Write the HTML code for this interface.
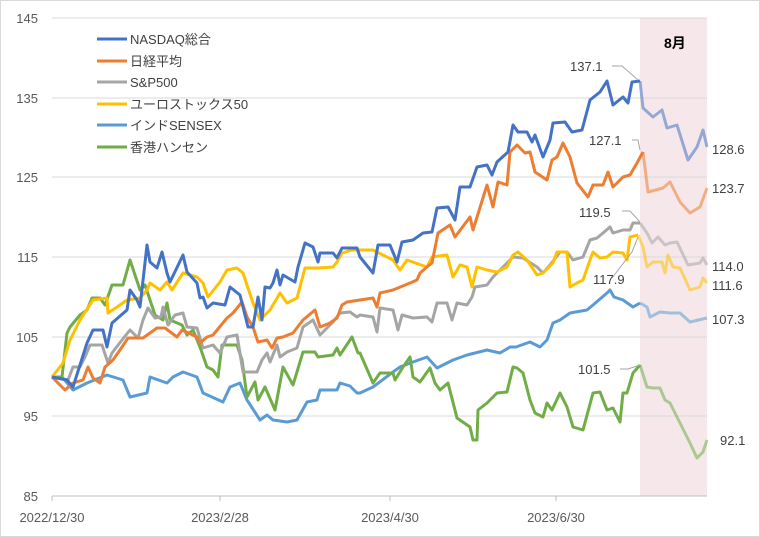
<!DOCTYPE html>
<html><head><meta charset="utf-8"><style>
body{margin:0;background:#fff}
svg{display:block;font-family:"Liberation Sans","Noto Sans CJK JP",sans-serif}
</style></head><body>
<svg width="760" height="537" viewBox="0 0 760 537">
<rect x="0.5" y="0.5" width="759" height="536" fill="#fff" stroke="#d9d9d9"/>
<rect x="640" y="18" width="67" height="478" fill="#f6e8ea"/>
<g stroke="#d9d9d9" stroke-width="1">
<line x1="52" y1="18" x2="707" y2="18"/><line x1="52" y1="98" x2="707" y2="98"/>
<line x1="52" y1="177" x2="707" y2="177"/><line x1="52" y1="257" x2="707" y2="257"/>
<line x1="52" y1="337" x2="707" y2="337"/><line x1="52" y1="416" x2="707" y2="416"/>
<line x1="52" y1="496" x2="707" y2="496" stroke="#bfbfbf"/>
<line x1="52" y1="496" x2="52" y2="501" stroke="#bfbfbf"/><line x1="220" y1="496" x2="220" y2="501" stroke="#bfbfbf"/>
<line x1="390" y1="496" x2="390" y2="501" stroke="#bfbfbf"/><line x1="556" y1="496" x2="556" y2="501" stroke="#bfbfbf"/>
</g>
<g font-size="13" fill="#595959" text-anchor="end">
<text x="38" y="23">145</text><text x="38" y="103">135</text><text x="38" y="182">125</text>
<text x="38" y="262">115</text><text x="38" y="342">105</text><text x="38" y="421">95</text><text x="38" y="501">85</text>
</g>
<g font-size="13" fill="#595959" text-anchor="middle">
<text x="52" y="522">2022/12/30</text><text x="220" y="522">2023/2/28</text><text x="390" y="522">2023/4/30</text><text x="556" y="522">2023/6/30</text>
</g>
<g fill="none" stroke-width="3" stroke-linejoin="round">
<!-- SENSEX -->
<polyline stroke="#5b9bd5" points="52,377 62,377 73,390 87,383 107,375 123,380 130,397 147,393 150,377 167,383 173,377 183,372 197,377 203,393 223,402 230,387 240,383 247,400 260,420 267,415 273,420 287,422 297,420 307,402 317,400 320,390 337,390 340,383 350,386 357,393 360,393 373,387 393,372 400,367 413,362 427,357 437,368 453,360 467,355 487,350 500,353 510,347 516,347 530,342 540,347 547,340 553,323 560,320 570,313 587,310 593,305 607,293 610,290 614,297 623,300 633,307 640,303"/>
<polyline stroke="#5b9bd5" opacity="0.55" points="640,303 647,307 650,317 660,312 670,313 680,313 690,322 707,318"/>
<!-- Hang Seng -->
<polyline stroke="#70ad47" points="52,377 62,377 67,333 70,327 80,315 87,310 92,298 100,298 105,305 112,285 123,285 130,260 140,290 145,285 155,315 163,320 167,303 170,320 182,325 187,335 193,330 200,347 207,367 213,370 218,377 222,345 237,345 242,360 247,397 255,382 258,400 265,387 275,410 283,367 293,385 303,352 315,352 318,357 333,355 337,348 340,355 352,337 358,353 360,353 373,383 380,373 393,373 395,380 403,367 410,357 413,377 420,382 430,368 435,383 440,390 448,383 457,418 470,427 473,440 477,440 478,410 487,403 497,393 507,392 513,367 517,368 523,373 530,400 535,413 543,417 547,403 552,410 560,393 567,407 573,427 583,430 593,393 600,392 607,410 613,408 620,422 623,393 627,393 633,373 640,365"/>
<polyline stroke="#70ad47" opacity="0.55" points="640,365 647,387 653,388 660,388 665,400 670,403 680,423 690,443 697,458 703,452 707,440"/>
<!-- S&P -->
<polyline stroke="#a5a5a5" points="52,377 68,380 73,367 80,367 85,357 90,345 102,345 108,363 112,353 122,340 130,330 138,338 143,320 148,308 155,318 161,317 163,307 168,325 175,315 183,313 187,327 197,328 203,348 213,345 220,353 227,337 237,335 243,372 257,372 262,360 267,353 270,362 277,345 280,357 287,352 297,348 303,327 313,320 320,335 333,322 340,313 350,312 357,317 360,315 373,317 377,332 380,308 393,310 398,330 402,315 413,318 427,317 432,322 437,303 447,303 452,320 457,303 467,305 472,297 475,287 487,285 493,277 507,263 513,257 523,258 537,267 543,273 550,265 560,252 567,252 573,260 583,257 590,240 597,238 603,233 610,227 613,233 623,230 630,230 633,223 640,223"/>
<polyline stroke="#a5a5a5" opacity="0.55" points="640,223 647,233 652,243 658,237 665,245 670,243 677,242 688,265 700,263 703,258 707,265"/>
<!-- Euro -->
<polyline stroke="#ffc000" points="52,377 63,363 70,340 80,320 93,300 107,298 108,313 117,307 127,300 140,298 147,290 150,283 160,290 167,282 172,290 183,273 197,277 203,283 208,297 220,282 227,270 237,268 243,273 253,303 260,320 270,310 280,293 287,303 297,298 305,268 318,268 333,267 337,262 342,253 352,250 360,250 373,250 393,260 400,270 407,260 427,267 432,257 447,255 453,277 460,265 467,267 472,287 477,267 487,270 497,272 507,267 513,255 518,252 527,260 537,275 543,273 553,263 557,252 567,252 570,287 577,283 583,280 590,260 593,252 600,258 607,257 613,252 623,253 627,260 630,237 638,235"/>
<polyline stroke="#ffc000" opacity="0.55" points="638,235 643,247 647,267 653,262 662,262 665,273 668,255 673,267 680,268 690,290 700,287 703,278 707,283"/>
<!-- Nikkei -->
<polyline stroke="#ed7d31" points="52,377 65,390 73,383 83,380 88,367 93,378 100,383 105,367 113,360 122,347 128,338 143,338 157,328 165,328 177,337 182,330 197,337 200,343 207,337 213,335 227,318 233,313 242,302 247,317 253,327 258,342 267,340 272,348 277,338 283,337 293,333 303,320 315,310 320,327 330,323 337,318 342,305 347,302 360,300 373,298 377,307 380,293 393,290 410,283 417,280 420,273 427,267 432,263 438,233 450,225 455,237 470,217 473,230 487,185 493,207 498,182 507,185 510,152 517,145 525,153 530,152 535,172 547,180 552,160 557,157 563,143 570,157 577,183 588,197 593,185 603,185 608,172 613,187 623,177 630,175 637,163 643,152"/>
<polyline stroke="#ed7d31" opacity="0.55" points="643,152 648,192 663,188 670,182 680,202 690,213 700,207 707,188"/>
<!-- NASDAQ -->
<polyline stroke="#4472c4" points="52,377 67,380 73,387 87,343 93,330 103,330 107,347 112,323 127,310 130,290 137,300 140,307 147,245 150,262 157,268 162,252 167,273 170,282 183,255 187,272 197,283 200,298 203,297 207,308 213,303 225,305 230,287 240,295 248,327 253,327 258,297 262,320 265,287 270,288 273,283 277,270 280,285 283,275 295,282 298,267 305,243 313,247 318,262 320,253 333,253 337,258 342,248 357,248 360,257 373,273 378,245 390,245 397,262 402,242 413,240 423,233 432,232 437,208 448,207 455,220 460,187 470,187 477,167 487,165 492,175 497,162 508,152 513,125 518,132 527,132 532,142 535,135 543,157 550,140 553,123 565,122 572,132 582,130 590,100 600,92 607,81 613,105 623,97 628,103 632,82 640,81"/>
<polyline stroke="#4472c4" opacity="0.55" points="640,81 643,108 653,117 662,110 667,128 677,125 688,160 697,147 703,130 707,147"/>
</g>
<!-- leaders -->
<g fill="none" stroke="#a6a6a6" stroke-width="1">
<polyline points="612,66 622,66 638,80"/>
<polyline points="632,140 638,140 640,150"/>
<polyline points="622,211 630,211 640,222"/>
<polyline points="612,278 632,252 638,237"/>
<polyline points="620,369 628,369 640,365"/>
</g>
<g font-size="13" fill="#404040">
<text x="570" y="71">137.1</text><text x="589" y="145">127.1</text><text x="579" y="217">119.5</text>
<text x="593" y="284">117.9</text><text x="578" y="374">101.5</text>
<text x="712" y="154">128.6</text><text x="712" y="193">123.7</text><text x="712" y="271">114.0</text>
<text x="712" y="290">111.6</text><text x="712" y="324">107.3</text><text x="720" y="445">92.1</text>
</g>
<text x="664" y="48" font-size="14" font-weight="bold" fill="#000">8月</text>
<!-- legend -->
<g stroke-width="3">
<line x1="97" y1="39" x2="127" y2="39" stroke="#4472c4"/>
<line x1="97" y1="61" x2="127" y2="61" stroke="#ed7d31"/>
<line x1="97" y1="82" x2="127" y2="82" stroke="#a5a5a5"/>
<line x1="97" y1="104" x2="127" y2="104" stroke="#ffc000"/>
<line x1="97" y1="125" x2="127" y2="125" stroke="#5b9bd5"/>
<line x1="97" y1="147" x2="127" y2="147" stroke="#70ad47"/>
</g>
<g font-size="13" fill="#404040">
<text x="130" y="44">NASDAQ総合</text><text x="130" y="66">日経平均</text><text x="130" y="87">S&amp;P500</text>
<text x="130" y="109">ユーロストックス50</text><text x="130" y="130">インドSENSEX</text><text x="130" y="152">香港ハンセン</text>
</g>
</svg>
</body></html>
